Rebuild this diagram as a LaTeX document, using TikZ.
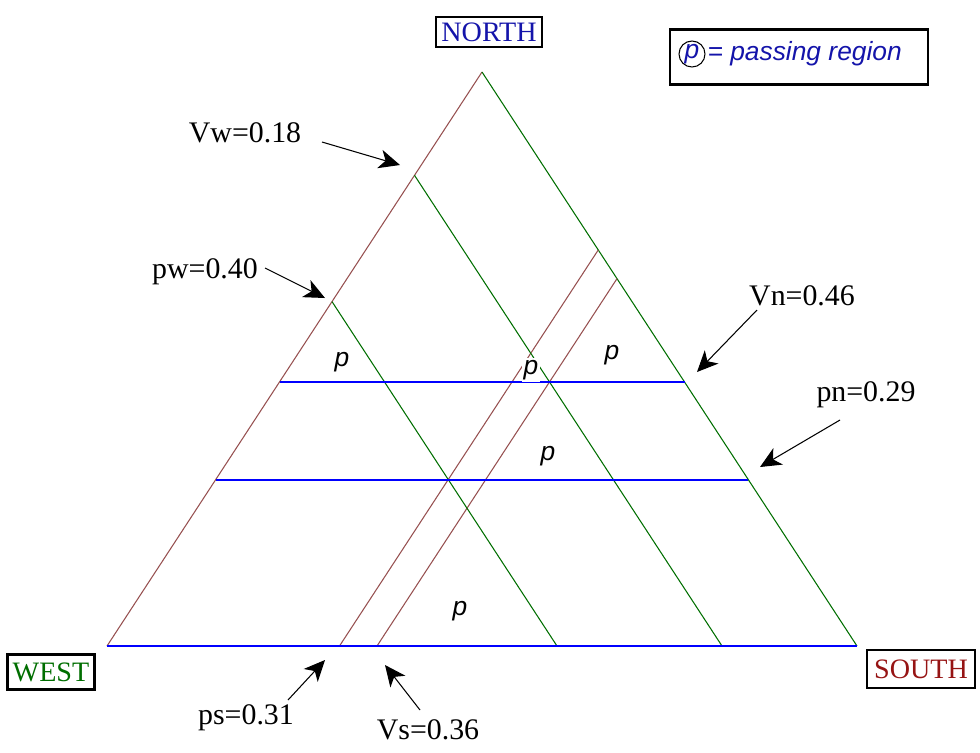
\documentclass[tikz,border=0pt]{standalone}
\usepackage{fontspec}
\setmainfont{Liberation Serif}
\setsansfont{Liberation Sans}
\usetikzlibrary{calc,positioning,arrows.meta}
\definecolor{marron}{RGB}{150,80,80}
\definecolor{verde}{RGB}{0,110,0}
\definecolor{marino}{RGB}{20,20,170}
\definecolor{granate}{RGB}{150,20,20}

\begin{document}
\begin{tikzpicture}[x=0.02cm, y=-0.02cm,
        esquina/.style={draw, line width=1.4pt, inner sep=3pt, font=\fontsize{16}{18}\selectfont},
        valor/.style={font=\fontsize{17}{20}\selectfont},
        zona/.style={fill=white, inner sep=1pt, font=\sffamily\itshape\fontsize{15}{18}\selectfont},
        flecha/.style={-{Stealth[length=4.2mm, width=3.8mm, inset=1.2mm]}, line width=0.6pt},
        lineaw/.style={marron, line width=0.6pt},
        lineas/.style={verde, line width=0.6pt},
        lineah/.style={blue, line width=1.1pt}
    ]
    \useasboundingbox (0,0) rectangle (980,752);

    \coordinate (N) at (482,72);
    \coordinate (W) at (107,646);
    \coordinate (S) at (857,646);

    % puntos sobre los lados
    \coordinate (vw) at ($(N)!0.18!(W)$);
    \coordinate (vwb) at ($(W)!0.82!(S)$);
    \coordinate (pw) at ($(N)!0.40!(W)$);
    \coordinate (pwb) at ($(W)!0.60!(S)$);
    \coordinate (ps) at ($(W)!0.31!(S)$);
    \coordinate (pst) at ($(S)!0.69!(N)$);
    \coordinate (vs) at ($(W)!0.36!(S)$);
    \coordinate (vst) at ($(S)!0.64!(N)$);
    \coordinate (vn) at ($(W)!0.46!(N)$);
    \coordinate (vnr) at ($(S)!0.46!(N)$);
    \coordinate (pn) at ($(W)!0.29!(N)$);
    \coordinate (pnr) at ($(S)!0.29!(N)$);

    % triangulo
    \draw [lineaw] (W) -- (N);
    \draw [lineas] (N) -- (S);
    \draw [lineaw] (ps) -- (pst);
    \draw [lineaw] (vs) -- (vst);
    \draw [lineas] (vw) -- (vwb);
    \draw [lineas] (pw) -- (pwb);
    \draw [lineah] (W) -- (S);
    \draw [lineah] (vn) -- (vnr);
    \draw [lineah] (pn) -- (pnr);

    % zonas de paso
    \node (p1) [zona] at (342,362) {p};
    \node (p2) [zona] at (531,370) {p};
    \node (p3) [zona] at (612,355) {p};
    \node (p4) [zona] at (548,456) {p};
    \node (p5) [zona] at (460,611) {p};

    % vertices
    \node (north) [esquina, text=marino, minimum width=2.08cm, minimum height=0.6cm] at (489,32) {NORTH};
    \node (west) [esquina, text=verde, minimum width=1.64cm, minimum height=0.7cm] at (51,672) {WEST};
    \node (south) [esquina, text=granate, minimum width=2.16cm, minimum height=0.76cm] at (921,669) {SOUTH};

    % leyenda
    \node (leyenda) [draw, line width=1.4pt, minimum width=5.16cm, minimum height=1.1cm] at (799,57) {};
    \node (pc) [circle, draw, line width=0.6pt, inner sep=0pt, minimum size=0.52cm, text=marino,
        font=\sffamily\itshape\fontsize{15}{18}\selectfont] at (692,54) {p};
    \node (ptxt) [right=1pt of pc, inner sep=0pt, text=marino,
        font=\sffamily\itshape\fontsize{15}{18}\selectfont] {= passing region};

    % valores
    \node (lvw) [valor] at (245,133) {Vw=0.18};
    \node (lpw) [valor] at (205,272) {pw=0.40};
    \node (lvn) [valor] at (802,296) {Vn=0.46};
    \node (lpn) [valor] at (866,395) {pn=0.29};
    \node (lps) [valor] at (246,718) {ps=0.31};
    \node (lvs) [valor] at (428,730) {Vs=0.36};

    \coordinate (avw) at (322,142);  \coordinate (bvw) at (400,165);
    \coordinate (apw) at (265,268);  \coordinate (bpw) at (325,298);
    \coordinate (avn) at (757,310);  \coordinate (bvn) at (697,372);
    \coordinate (apn) at (840,420);  \coordinate (bpn) at (760,467);
    \coordinate (aps) at (288,700);  \coordinate (bps) at (325,660);
    \coordinate (avs) at (420,710);  \coordinate (bvs) at (385,665);

    \draw [flecha] (avw) -- (bvw);
    \draw [flecha] (apw) -- (bpw);
    \draw [flecha] (avn) -- (bvn);
    \draw [flecha] (apn) -- (bpn);
    \draw [flecha] (aps) -- (bps);
    \draw [flecha] (avs) -- (bvs);
\end{tikzpicture}
\end{document}
